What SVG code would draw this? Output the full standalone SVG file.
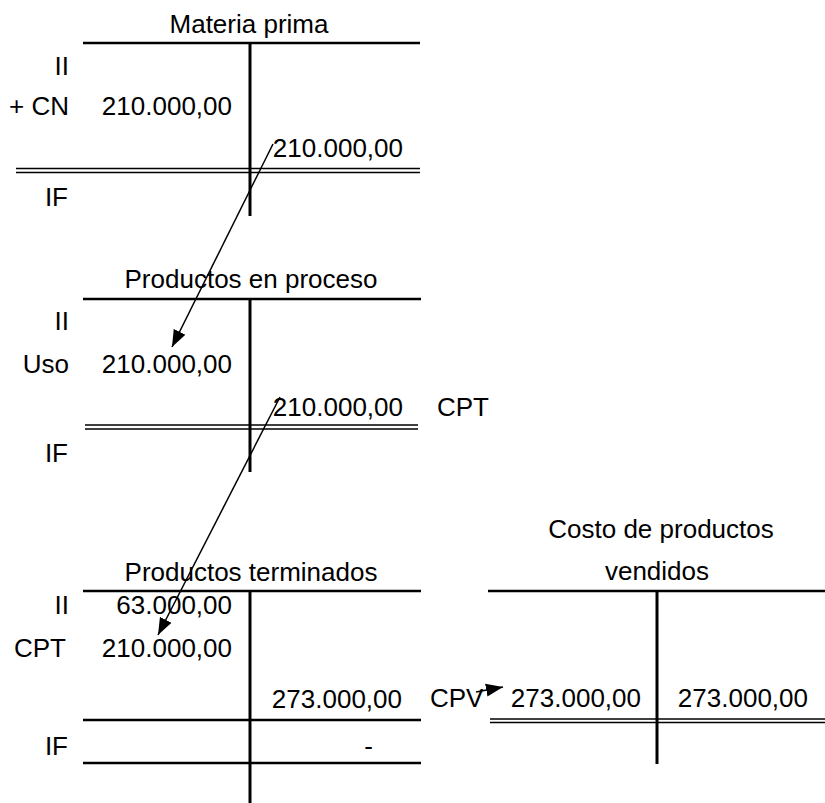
<svg xmlns="http://www.w3.org/2000/svg" width="825" height="803" viewBox="0 0 825 803">
<style>
text{font-family:"Liberation Sans",Arial,sans-serif;font-size:26px;fill:#000}
.e{text-anchor:end}
.m{text-anchor:middle}
.h{stroke:#000;stroke-width:2.4}
.v{stroke:#000;stroke-width:3}
.d{stroke:#000;stroke-width:1.4}
.c{stroke:#000;stroke-width:1.5;fill:none}
</style>
<defs>
<marker id="ah" markerUnits="userSpaceOnUse" markerWidth="18" markerHeight="14" refX="17" refY="7" orient="auto">
<path d="M0,0.5 L17,7 L0,13.5 z" fill="#000"/>
</marker>
</defs>
<rect width="825" height="803" fill="#fff"/>
<g id="materia-prima">
<text class="m" x="249" y="33">Materia prima</text>
<line class="h" x1="83" y1="43" x2="420" y2="43"/>
<line class="v" x1="250" y1="43" x2="250" y2="216"/>
<line class="d" x1="16" y1="168.5" x2="420" y2="168.5"/>
<line class="d" x1="16" y1="172.5" x2="420" y2="172.5"/>
<text class="e" x="69" y="75">II</text>
<text class="e" x="69" y="115">+ CN</text>
<text class="e" x="232" y="115">210.000,00</text>
<text class="e" x="403" y="157">210.000,00</text>
<text class="e" x="68" y="206">IF</text>
</g>
<g id="productos-en-proceso">
<text class="m" x="251" y="288">Productos en proceso</text>
<line class="h" x1="83" y1="299" x2="421" y2="299"/>
<line class="v" x1="250" y1="299" x2="250" y2="472"/>
<line class="d" x1="85" y1="425" x2="418" y2="425"/>
<line class="d" x1="85" y1="429" x2="418" y2="429"/>
<text class="e" x="69" y="330">II</text>
<text class="e" x="69" y="373">Uso</text>
<text class="e" x="232" y="373">210.000,00</text>
<text class="e" x="403" y="416">210.000,00</text>
<text x="437" y="416">CPT</text>
<text class="e" x="68" y="462">IF</text>
</g>
<g id="productos-terminados">
<text class="m" x="251" y="581">Productos terminados</text>
<line class="h" x1="83" y1="591" x2="421" y2="591"/>
<line class="v" x1="250" y1="591" x2="250" y2="803"/>
<line class="h" x1="83" y1="720" x2="421" y2="720"/>
<line class="h" x1="83" y1="763" x2="421" y2="763"/>
<text class="e" x="69" y="614">II</text>
<text class="e" x="232" y="614">63.000,00</text>
<text class="e" x="66" y="657">CPT</text>
<text class="e" x="232" y="657">210.000,00</text>
<text class="e" x="402" y="708">273.000,00</text>
<text class="e" x="68" y="755">IF</text>
<text class="e" x="373" y="755">-</text>
</g>
<g id="costo-productos-vendidos">
<text class="m" x="661" y="538">Costo de productos</text>
<text class="m" x="657" y="580">vendidos</text>
<line class="h" x1="488" y1="591" x2="825" y2="591"/>
<line class="v" x1="657" y1="591" x2="657" y2="764"/>
<line class="d" x1="490" y1="719" x2="825" y2="719"/>
<line class="d" x1="490" y1="722.5" x2="825" y2="722.5"/>
<text x="430" y="707">CPV</text>
<text class="e" x="641" y="707">273.000,00</text>
<text class="e" x="808" y="707">273.000,00</text>
</g>
<g id="connectors">
<line class="c" x1="273" y1="144" x2="172" y2="347" marker-end="url(#ah)"/>
<line class="c" x1="280" y1="397" x2="158" y2="635" marker-end="url(#ah)"/>
<line class="c" x1="476" y1="692" x2="503" y2="687" marker-end="url(#ah)"/>
</g>
</svg>
